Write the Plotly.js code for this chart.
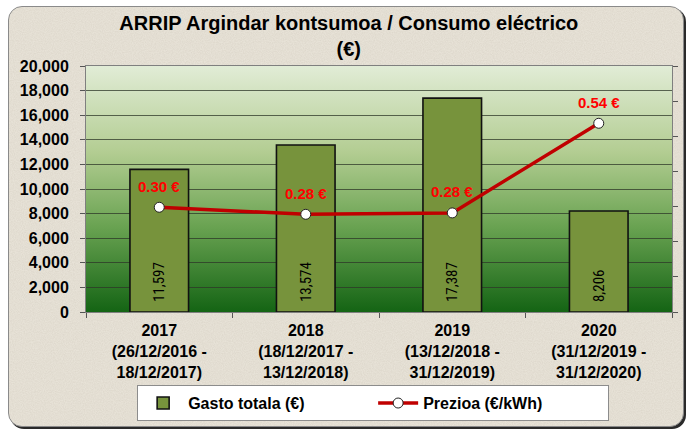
<!DOCTYPE html>
<html>
<head>
<meta charset="utf-8">
<script src="https://cdn.plot.ly/plotly-3.0.1.min.js"></script>
<style>
  html, body { margin: 0; padding: 0; background: #ffffff; }
  #wrap { position: relative; width: 688px; height: 432px; overflow: hidden; }
  #frame {
    position: absolute; left: 8px; top: 6px; width: 674px; height: 419px;
    border: 1px solid #8a8a8a; border-radius: 14px;
    background-color: #e7e2d7;
    box-shadow: 2px 2px 0 #2a2a2a;
  }
  #noise { position: absolute; left: 0; top: 0; width: 100%; height: 100%; border-radius: 14px; opacity: 0.35; }
  #chart { position: absolute; left: 0; top: 0; width: 688px; height: 432px; }
</style>
</head>
<body>
<div id="wrap">
  <div id="frame">
    <svg id="noise" xmlns="http://www.w3.org/2000/svg">
      <filter id="n"><feTurbulence type="fractalNoise" baseFrequency="0.9" numOctaves="2" seed="3"/><feColorMatrix type="matrix" values="0 0 0 0 0.55  0 0 0 0 0.5  0 0 0 0 0.42  0 0 0 -1.2 0.9"/></filter>
      <rect width="100%" height="100%" filter="url(#n)"/>
    </svg>
  </div>
  <div id="chart"></div>
</div>
<script>
// ---- data ----
var categories = [
  "2017<br>(26/12/2016 -<br>18/12/2017)",
  "2018<br>(18/12/2017 -<br>13/12/2018)",
  "2019<br>(13/12/2018 -<br>31/12/2019)",
  "2020<br>(31/12/2019 -<br>31/12/2020)"
];
var gastoTotala = [11597, 13574, 17387, 8206];
var prezioa = [0.298, 0.278, 0.282, 0.537];
var seriesNames = ["Gasto totala (€)", "Prezioa (€/kWh)"];
var titleText = "ARRIP Argindar kontsumoa / Consumo eléctrico<br>(€)";

// ---- styling ----
var NBSP = "\u00a0";
var barText = gastoTotala.map(function (v) { return NBSP + NBSP + v.toLocaleString("en-US"); });
var priceText = prezioa.map(function (v) { return v.toFixed(2) + " €"; });

var gradSvg = "<svg xmlns='http://www.w3.org/2000/svg' width='100' height='100' viewBox='0 0 100 100' preserveAspectRatio='none'>" +
  "<defs><linearGradient id='g' x1='0' y1='0' x2='0' y2='1'>" +
  "<stop offset='0' stop-color='#e1ecd6'/>" +
  "<stop offset='0.35' stop-color='#b3cd92'/>" +
  "<stop offset='0.65' stop-color='#6aa352'/>" +
  "<stop offset='1' stop-color='#146414'/>" +
  "</linearGradient></defs><rect width='100' height='100' fill='url(#g)'/></svg>";
var gradUri = "data:image/svg+xml;charset=utf-8," + encodeURIComponent(gradSvg);

var fontFam = "Liberation Sans, Arial, sans-serif";
var narrowFam = "Liberation Sans Narrow, Arial Narrow, Roboto Condensed, Liberation Sans, Arial, sans-serif";

var traces = [
  {
    type: "bar",
    name: seriesNames[0],
    x: categories,
    y: gastoTotala,
    text: barText,
    textposition: "inside",
    insidetextanchor: "start",
    textangle: -90,
    constraintext: "none",
    textfont: { family: narrowFam, size: 15, color: "#000000" },
    marker: { color: "#77933c", line: { color: "#111111", width: 1.6 } },
    hoverinfo: "skip"
  },
  {
    type: "scatter",
    mode: "lines+markers",
    name: seriesNames[1],
    x: categories,
    y: prezioa,
    yaxis: "y2",
    line: { color: "#c00000", width: 3.5 },
    marker: { symbol: "circle", size: 10, color: "#ffffff", line: { color: "#222222", width: 1 } },
    hoverinfo: "skip"
  }
];

var annotations = prezioa.map(function (v, i) {
  return {
    x: categories[i], y: v, xref: "x", yref: "y2",
    text: priceText[i], showarrow: false,
    yanchor: "middle", yshift: 21,
    font: { family: fontFam, size: 15, color: "#ff0000", weight: "bold" }
  };
});

var layout = {
  width: 688, height: 432,
  margin: { l: 86, r: 16, t: 66, b: 119, pad: 0 },
  paper_bgcolor: "rgba(0,0,0,0)",
  plot_bgcolor: "rgba(0,0,0,0)",
  font: { family: fontFam, color: "#000000" },
  title: {
    text: titleText,
    font: { family: fontFam, size: 20, color: "#000000", weight: "bold" },
    xref: "container", x: 0.507, xanchor: "center",
    yref: "container", y: 0.93, yanchor: "top"
  },
  bargap: 0.6,
  showlegend: true,
  legend: {
    orientation: "h",
    x: 0.49, xanchor: "center",
    y: -0.292, yanchor: "top",
    bgcolor: "#ffffff", bordercolor: "#8c8c8c", borderwidth: 1,
    font: { family: fontFam, size: 16, color: "#000000", weight: "bold" },
    entrywidth: 180, itemwidth: 40,
    traceorder: "normal"
  },
  xaxis: {
    type: "category",
    tickson: "boundaries",
    ticks: "outside", ticklen: 5, tickcolor: "#555555",
    ticklabelstandoff: 4,
    showline: true, linecolor: "#7f7f7f", linewidth: 1, mirror: true,
    showgrid: false,
    tickfont: { family: fontFam, size: 16, color: "#000000", weight: "bold" },
    fixedrange: true
  },
  yaxis: {
    range: [0, 20000], dtick: 2000, tickformat: ",d",
    ticks: "outside", ticklen: 5, tickcolor: "#555555",
    ticklabelstandoff: 8,
    showline: true, linecolor: "#7f7f7f", linewidth: 1,
    showgrid: true, gridcolor: "rgba(45,55,40,0.75)", gridwidth: 1,
    zeroline: false,
    tickfont: { family: fontFam, size: 16, color: "#000000", weight: "bold" },
    fixedrange: true
  },
  yaxis2: {
    overlaying: "y", side: "right",
    range: [0, 0.7], dtick: 0.1,
    showticklabels: false,
    ticks: "outside", ticklen: 5, tickcolor: "#555555",
    showline: true, linecolor: "#7f7f7f", linewidth: 1,
    showgrid: false, zeroline: false,
    fixedrange: true
  },
  images: [{
    source: gradUri,
    xref: "paper", yref: "paper",
    x: 0, y: 1, sizex: 1, sizey: 1,
    xanchor: "left", yanchor: "top",
    sizing: "stretch", layer: "below"
  }],
  annotations: annotations
};

Plotly.newPlot("chart", traces, layout, { displayModeBar: false, staticPlot: true });
</script>
</body>
</html>
